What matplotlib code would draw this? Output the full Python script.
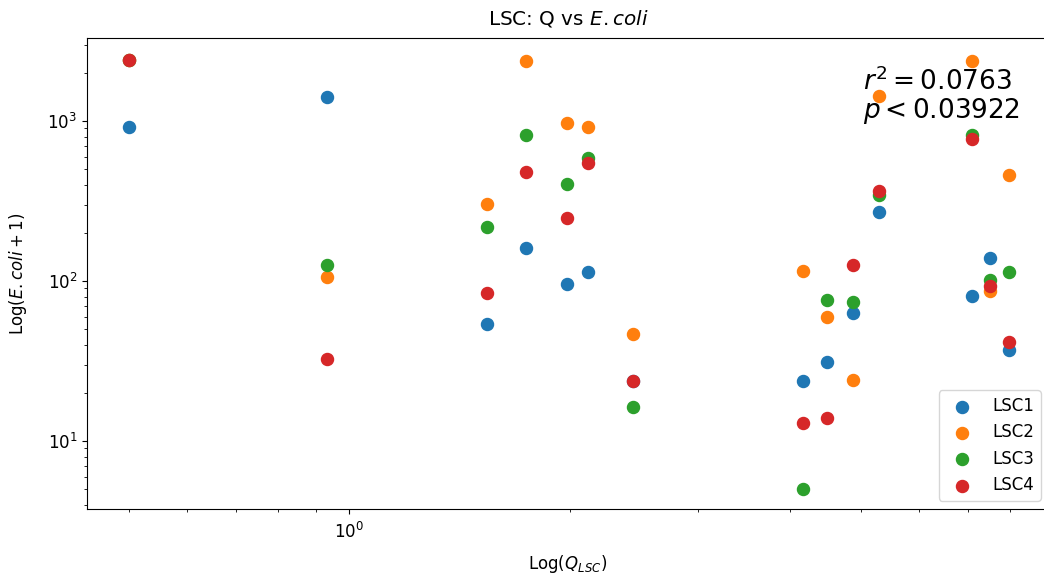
import matplotlib
matplotlib.use("Agg")
import matplotlib.pyplot as plt

# Q at each sampling event (shared by all four sites)
q = [0.50, 0.933, 1.54, 1.745, 1.985, 2.12, 2.44, 4.17, 4.50, 4.88, 5.30, 7.10, 7.51, 7.97]

# E. coli + 1 per site
lsc1 = [917, 1413, 54, 161, 96, 114, 23.7, 23.7, 31.2, 63, 270, 80.6, 139, 37]
lsc2 = [2400, 106, 303, 2371, 972, 917, 46.6, 115, 59.6, 24, 1433, 2371, 86.6, 460]
lsc3 = [2400, 126, 218, 818, 404, 587, 16.3, 5.0, 76, 74, 345, 818, 101, 114]
lsc4 = [2400, 32.6, 84, 480, 248, 546, 23.7, 13, 13.9, 126, 365, 772, 93, 41.6]

series = {"LSC1": lsc1, "LSC2": lsc2, "LSC3": lsc3, "LSC4": lsc4}

plt.rcParams["font.size"] = 12

fig = plt.figure(figsize=(10.44, 5.76), dpi=100)
# axes run slightly past the right edge of the image, like the reference
ax = fig.add_axes([0.0833, 0.1163, 0.9215, 0.8177])

for name, vals in series.items():
    ax.scatter(q, vals, s=75, label=name)

ax.set_xscale("log")
ax.set_yscale("log")
ax.set_xlim(0.438, 9.04)
ax.set_ylim(3.76, 3303)
ax.tick_params(axis="x", which="major", pad=6)

ax.set_title(r"LSC: Q vs $E.coli$", y=1.0, pad=10)
ax.set_xlabel(r"Log($Q_{LSC}$)", labelpad=8)
ax.set_ylabel(r"Log($E.coli + 1$)", labelpad=13)

ax.text(0.807, 0.937, "$r^2 = 0.0763$\n$p < 0.03922$", transform=ax.transAxes,
        fontsize=19, va="top", ha="left", linespacing=1.0)

ax.legend(loc="lower right")

fig.savefig("out.png", dpi=100)
